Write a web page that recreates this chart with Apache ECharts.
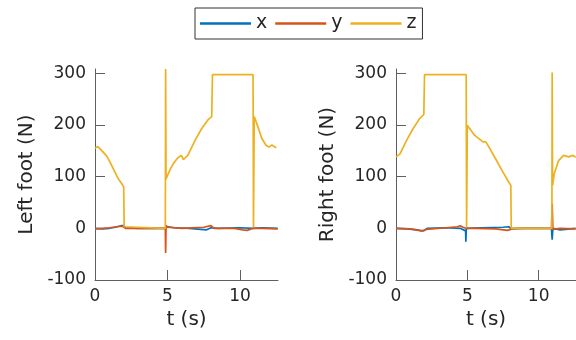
<!DOCTYPE html>
<html>
<head>
<meta charset="utf-8">
<script src="https://cdn.jsdelivr.net/npm/echarts@6/dist/echarts.min.js"></script>
<style>html,body{margin:0;padding:0;background:#fff}#c{width:576px;height:340px}</style>
</head>
<body>
<div id="c"></div>
<script>
// ---- data (time in s, force in N) ----
var yTicks = [-100, 0, 100, 200, 300];
var xTicks = [0, 5, 10];

var leftX = [[0,0],[0.5,-1],[1.0,0],[1.4,2],[1.8,5],[2.0,5],[2.1,1],[3,0],[4.85,0],[4.88,2],[5.0,3],[5.5,1],[6.5,0],[7.3,-2],[7.7,-3],[8.0,1],[8.5,0],[10.0,1],[10.9,0],[11.0,3],[11.5,1],[12.6,0]];
var leftY = [[0,-1],[0.5,0],[1.0,1],[1.5,3],[1.9,4],[2.1,0],[3,0],[4.85,0],[4.87,-48],[4.9,6],[5.0,2],[6.0,0],[7.5,2],[8.0,5],[8.2,0],[9.5,0],[10.2,-3],[10.5,-4],[10.9,0],[11.0,2],[11.5,0],[12.6,-1]];
var leftZ = [[0,155],[0.2,158],[0.4,152],[0.8,140],[1.0,130],[1.3,113],[1.6,96],[1.8,88],[1.98,80],[2.01,3],[2.1,0],[4.85,0],[4.87,308],[4.9,95],[4.95,99],[5.2,115],[5.4,125],[5.7,136],[5.95,141],[6.1,133],[6.4,141],[6.9,170],[7.36,193],[7.8,210],[8.05,216],[8.1,297],[10.9,297],[10.93,2],[10.98,216],[11.2,199],[11.5,174],[11.8,160],[12.0,157],[12.2,161],[12.35,158],[12.5,156]];

var rightX = [[0,0],[0.8,-1],[1.5,-3],[1.8,-5],[2.0,-4],[2.2,0],[3.5,1],[4.5,0],[4.88,-5],[4.9,-26],[4.93,0],[6,1],[7.5,2],[7.9,3],[8.1,-1],[9,0],[10.9,0],[10.95,-22],[11.0,0],[11.5,-3],[12.6,0]];
var rightY = [[0,0],[1.0,-1],[1.6,-4],[1.9,-5],[2.1,-2],[3.5,1],[4.3,3],[4.5,5],[4.7,2],[4.9,0],[5.5,0],[7.0,-1],[7.8,-4],[8.05,-2],[8.2,0],[10.9,0],[10.95,48],[11.0,-2],[11.5,0],[12.6,-1]];
var rightZ = [[0,138],[0.28,144],[0.74,170],[1.2,193],[1.66,212],[1.95,220],[2.0,297],[4.92,297],[4.95,2],[5.0,199],[5.5,180],[6.1,167],[6.3,167],[6.5,158],[6.97,135],[7.43,112],[7.89,90],[8.05,83],[8.08,0],[10.93,0],[10.95,301],[10.98,83],[11.1,106],[11.4,131],[11.75,141],[12.1,138],[12.4,141],[12.6,137]];

var colX = '#0072BD', colY = '#D95319', colZ = '#EDB120';
var font = 'DejaVu Sans';
var txt = '#262626';
var axCol = '#5f5f5f';

function xAxisCfg(gi) {
  return {
    type: 'value', gridIndex: gi, min: 0, max: 12.62, interval: 5,
    name: 't (s)', nameLocation: 'middle', nameGap: 30,
    nameTextStyle: {fontFamily: font, fontSize: 20, color: txt},
    axisLine: {onZero: false, lineStyle: {color: axCol, width: 1}},
    axisTick: {inside: true, length: 10, lineStyle: {color: axCol}, customValues: xTicks},
    axisLabel: {fontFamily: font, fontSize: 17, color: txt, margin: 8, customValues: xTicks},
    splitLine: {show: false}
  };
}
function yAxisCfg(gi, nm) {
  return {
    type: 'value', gridIndex: gi, min: -100, max: 308, interval: 100,
    name: nm, nameLocation: 'middle', nameGap: 58, nameRotate: 90,
    nameTextStyle: {fontFamily: font, fontSize: 20, color: txt},
    axisLine: {show: true, onZero: false, lineStyle: {color: axCol, width: 1}},
    axisTick: {show: true, inside: true, length: 10, lineStyle: {color: axCol}, customValues: yTicks},
    axisLabel: {fontFamily: font, fontSize: 17, color: txt, margin: 9, customValues: yTicks},
    splitLine: {show: false}
  };
}
function ser(name, data, col, gi) {
  return {
    name: name, type: 'line', data: data, xAxisIndex: gi, yAxisIndex: gi,
    showSymbol: false, symbol: 'none', animation: false,
    lineStyle: {color: col, width: 1.7}, itemStyle: {color: col},
    clip: true
  };
}

var chart = echarts.init(document.getElementById('c'), null, {renderer: 'canvas'});
chart.setOption({
  backgroundColor: '#ffffff',
  animation: false,
  legend: {
    data: ['x', 'y', 'z'], left: 195, top: 8,
    icon: 'rect', itemWidth: 51, itemHeight: 2.5, itemGap: 8,
    padding: [6, 6, 6, 5],
    borderColor: '#333', borderWidth: 1,
    textStyle: {fontFamily: font, fontSize: 19, color: txt}
  },
  grid: [
    {left: 95, top: 69, width: 183, height: 211},
    {left: 396, top: 69, width: 183, height: 211}
  ],
  xAxis: [xAxisCfg(0), xAxisCfg(1)],
  yAxis: [yAxisCfg(0, 'Left foot (N)'), yAxisCfg(1, 'Right foot (N)')],
  series: [
    ser('x', leftX, colX, 0), ser('y', leftY, colY, 0), ser('z', leftZ, colZ, 0),
    ser('x', rightX, colX, 1), ser('y', rightY, colY, 1), ser('z', rightZ, colZ, 1)
  ]
});
</script>
</body>
</html>
